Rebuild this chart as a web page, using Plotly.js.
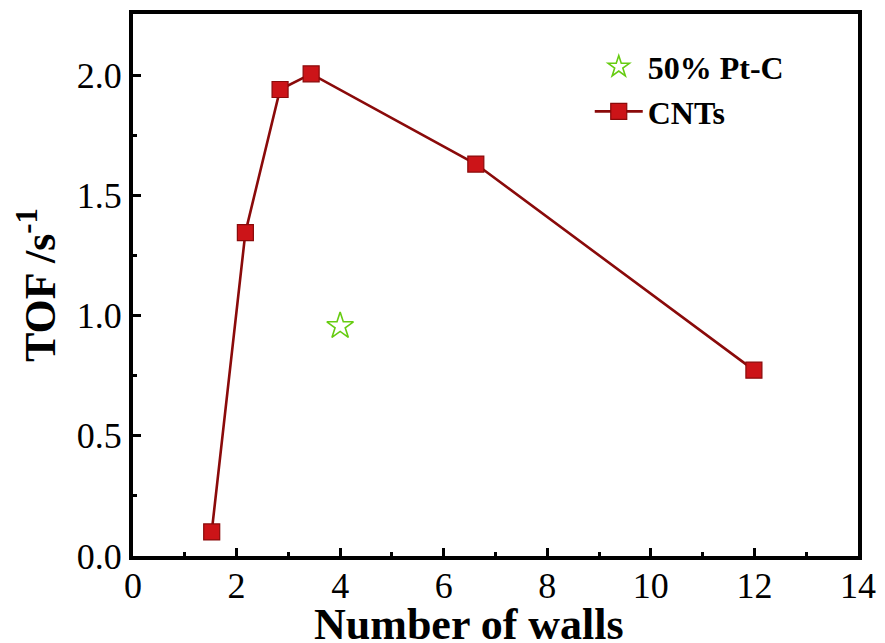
<!DOCTYPE html>
<html>
<head>
<meta charset="utf-8">
<script src="https://cdn.plot.ly/plotly-3.0.1.min.js"></script>
<style>
  html, body { margin: 0; padding: 0; background: #fff; }
  #chart { width: 885px; height: 643px; }
</style>
</head>
<body>
<div id="chart"></div>
<script>
// Turnover frequency of CNT catalysts versus wall count
const wallCounts = [1.52, 2.17, 2.84, 3.44, 6.62, 11.99];
const tofCNT = [0.10, 1.345, 1.94, 2.005, 1.63, 0.773];

// Reference catalyst
const ptWalls = [4.0];
const ptTOF = [0.956];

const seriesNames = ['50% Pt-C', 'CNTs'];
const xTickValues = [0, 2, 4, 6, 8, 10, 12, 14];
const yTickValues = [0.0, 0.5, 1.0, 1.5, 2.0];
const xTitle = 'Number of walls';
const yTitle = 'TOF /s<sup>-1</sup>';

const serif = 'Liberation Serif, Times New Roman, serif';

const traces = [
  {
    x: ptWalls, y: ptTOF, name: seriesNames[0],
    type: 'scatter', mode: 'markers',
    marker: { symbol: 'star-open', size: 20, color: '#66cc11', line: { width: 1.6, color: '#66cc11' } }
  },
  {
    x: wallCounts, y: tofCNT, name: seriesNames[1],
    type: 'scatter', mode: 'lines+markers',
    line: { color: '#8a0a0a', width: 2.6 },
    marker: { symbol: 'square', size: 16, color: '#cc1418', line: { width: 1.2, color: '#8a0a0a' } }
  }
];

const axisCommon = {
  showgrid: false, zeroline: false,
  showline: true, linecolor: '#000', linewidth: 4, mirror: true,
  ticks: 'inside', ticklen: 8, tickwidth: 3, tickcolor: '#000',
  tickfont: { family: serif, size: 36, color: '#000' }
};

const layout = {
  width: 885, height: 643,
  margin: { l: 133, r: 27, t: 14, b: 87 },
  paper_bgcolor: '#fff', plot_bgcolor: '#fff',
  showlegend: true,
  legend: {
    x: 0.63, y: 0.953, xanchor: 'left', yanchor: 'top',
    itemwidth: 48,
    bgcolor: 'rgba(0,0,0,0)',
    font: { family: serif, size: 32, color: '#000', weight: 'bold' },
    tracegroupgap: 0
  },
  xaxis: Object.assign({}, axisCommon, {
    range: [0, 14],
    tickvals: xTickValues,
    ticktext: xTickValues.map(String),
    ticklabelstandoff: -5,
    minor: { ticks: 'inside', ticklen: 4, tickwidth: 3, tickcolor: '#000', dtick: 1, tick0: 0 }
  }),
  yaxis: Object.assign({}, axisCommon, {
    range: [0, 2.254],
    tickvals: yTickValues,
    ticktext: yTickValues.map(v => v.toFixed(1)),
    minor: { ticks: 'inside', ticklen: 4, tickwidth: 3, tickcolor: '#000', dtick: 0.25, tick0: 0 },
    title: { text: yTitle, standoff: 8,
             font: { family: serif, size: 44, color: '#000', weight: 'bold' } }
  }),
  annotations: [
    {
      text: xTitle, xref: 'paper', yref: 'paper',
      x: 0.4634, y: -0.126, xanchor: 'center', yanchor: 'middle',
      showarrow: false,
      font: { family: serif, size: 44, color: '#000', weight: 'bold' }
    }
  ]
};

Plotly.newPlot('chart', traces, layout, { displayModeBar: false, staticPlot: true });
</script>
</body>
</html>
